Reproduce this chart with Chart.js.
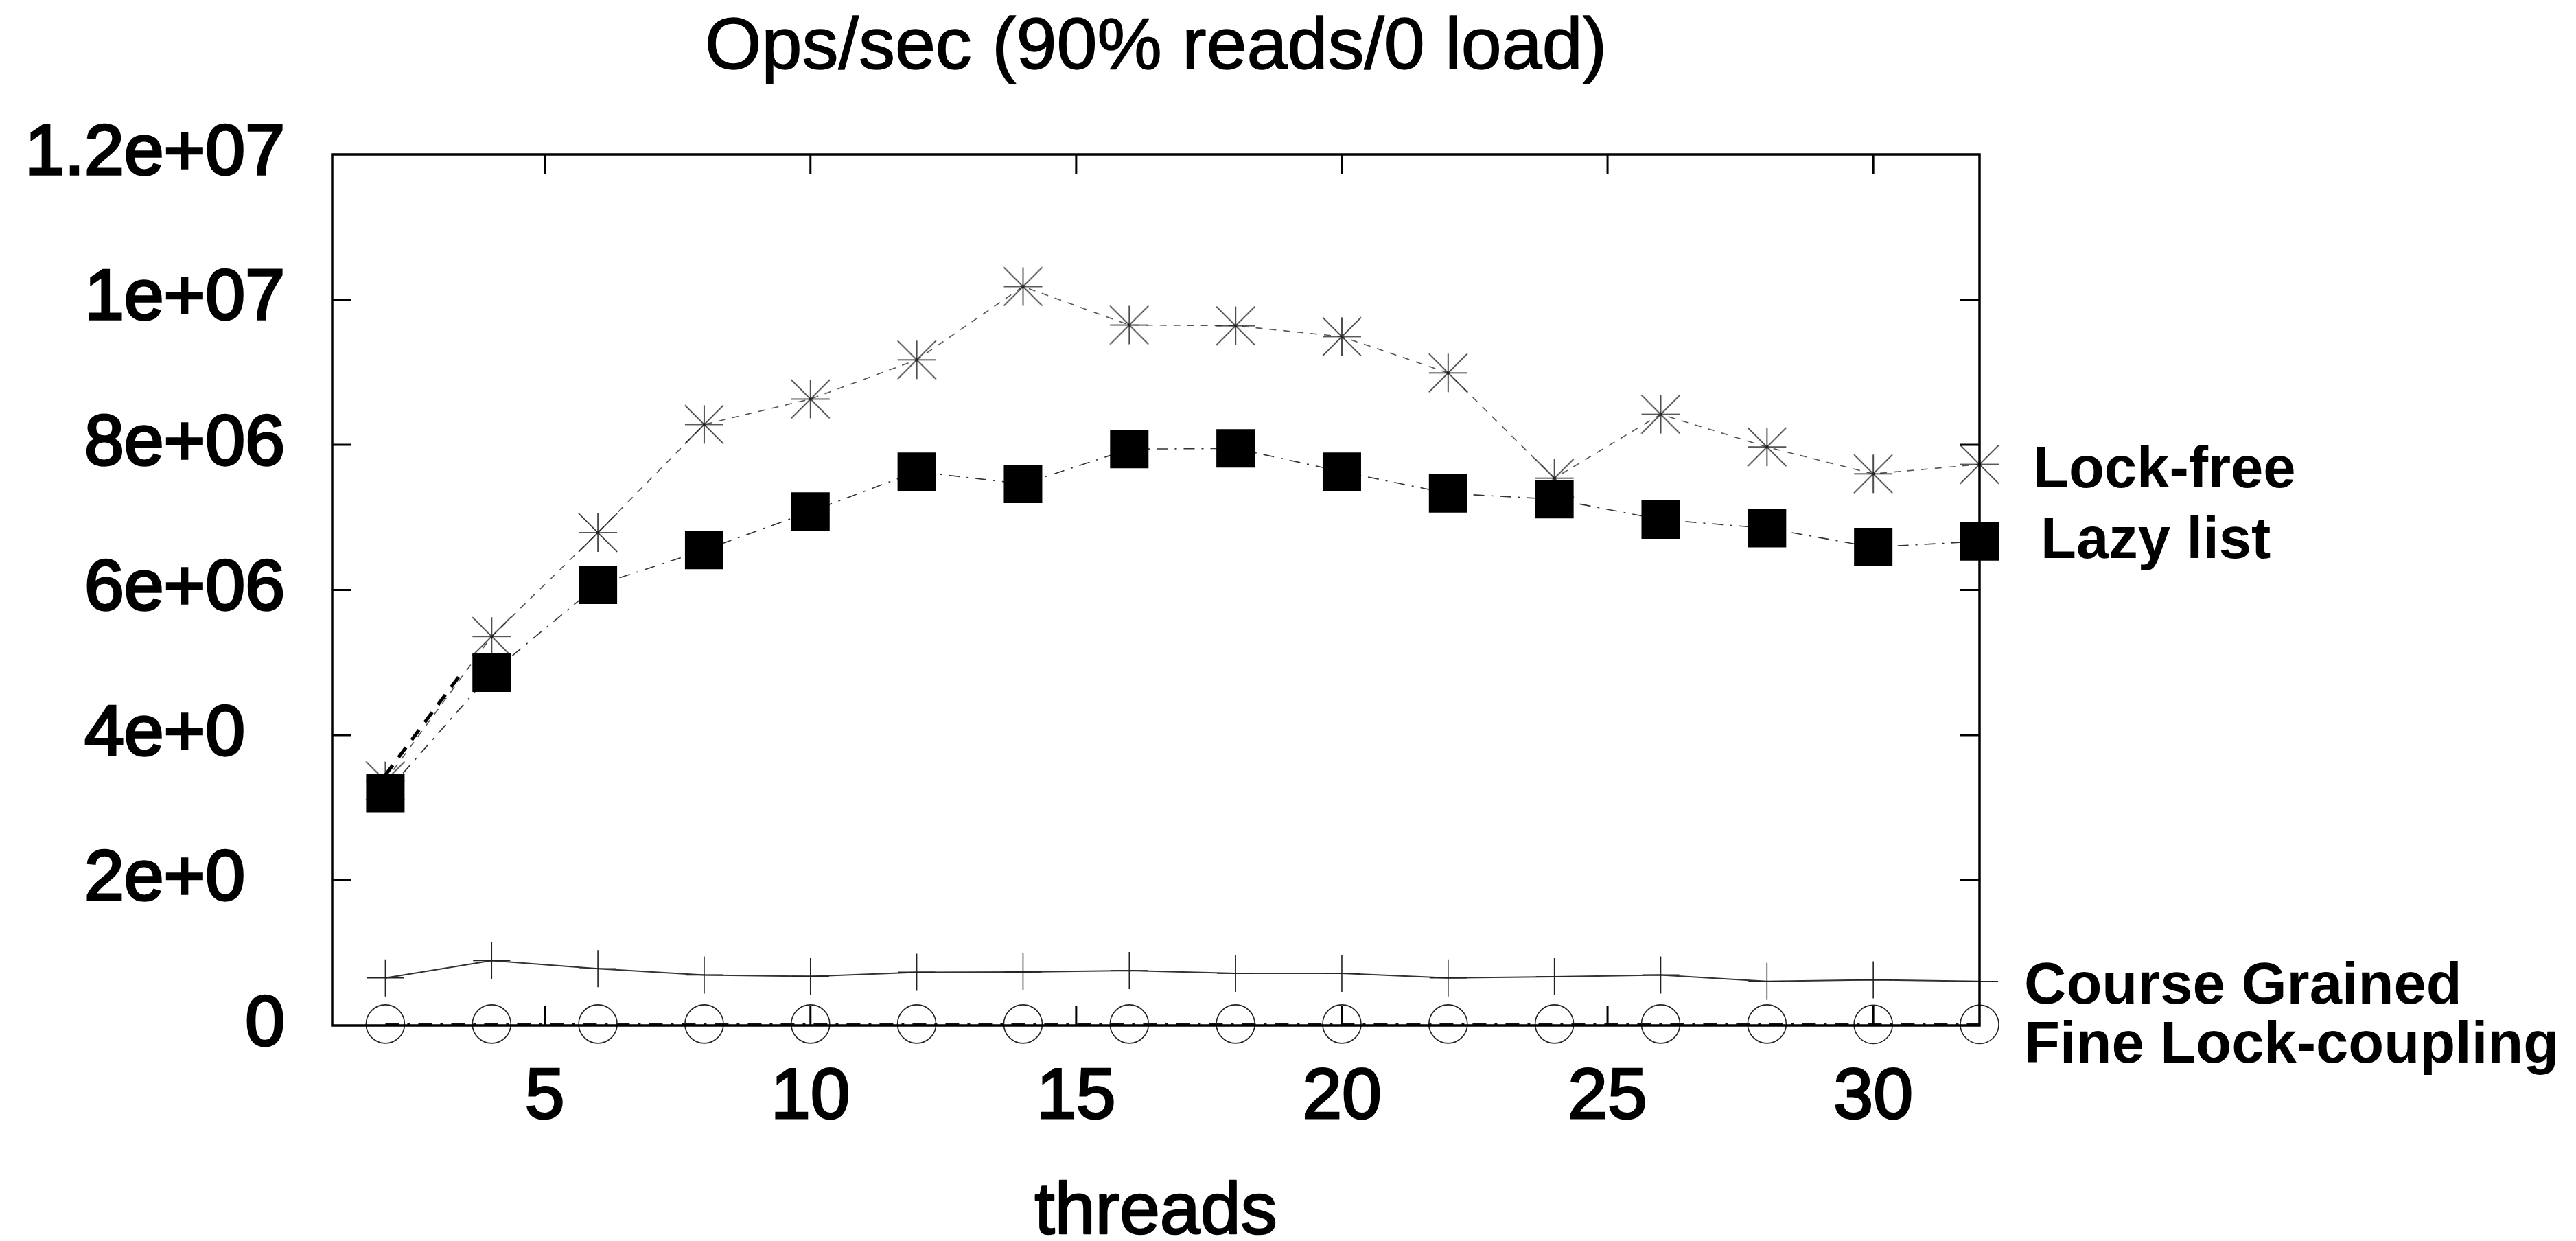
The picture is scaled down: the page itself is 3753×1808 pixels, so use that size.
<!DOCTYPE html>
<html>
<head>
<meta charset="utf-8">
<script src="https://cdn.jsdelivr.net/npm/chart.js@4/dist/chart.umd.min.js"></script>
<style>
  html, body { margin: 0; padding: 0; background: #fff; }
  #wrap { width: 3753px; height: 1808px; }
</style>
</head>
<body>
<div id="wrap"><canvas id="myChart" width="3753" height="1808"></canvas></div>
<script>
// values
const threads = [2, 4, 6, 8, 10, 12, 14, 16, 18, 20, 22, 24, 26, 28, 30, 32];
const lockFree = [3.37e6, 5.36e6, 6.79e6, 8.28e6, 8.63e6, 9.17e6, 10.18e6, 9.65e6, 9.64e6, 9.49e6, 8.99e6, 7.54e6, 8.42e6, 7.97e6, 7.60e6, 7.73e6];
const lazyList = [3.20e6, 4.86e6, 6.07e6, 6.55e6, 7.08e6, 7.63e6, 7.46e6, 7.94e6, 7.95e6, 7.63e6, 7.33e6, 7.25e6, 6.97e6, 6.85e6, 6.59e6, 6.67e6];
const courseGrained = [6.55e5, 8.93e5, 7.82e5, 6.96e5, 6.77e5, 7.34e5, 7.37e5, 7.57e5, 7.19e5, 7.19e5, 6.55e5, 6.71e5, 6.96e5, 6.08e5, 6.30e5, 6.08e5];
const fineLock = [2e4, 2e4, 2e4, 2e4, 2e4, 2e4, 2e4, 2e4, 2e4, 2e4, 2e4, 2e4, 2e4, 2e4, 1.5e4, 1.5e4];
// short bold dashed stroke near the start
const strayX = [2, 3.46];
const strayY = [3.45e6, 4.88e6];

const seriesNames = ['Lock-free', 'Lazy list', 'Course Grained', 'Fine Lock-coupling'];
const yTickLabels = ['0', '2e+0', '4e+0', '6e+06', '8e+06', '1e+07', '1.2e+07'];
const chartTitle = 'Ops/sec (90% reads/0 load)';
const xTitle = 'threads';

const FONT = '"Liberation Sans", Arial, Helvetica, sans-serif';

function toPoints(xs, ys) {
  return xs.map((x, i) => ({ x: x, y: ys[i] }));
}

// gnuplot-like asterisk: plus and X inside a square
function makeStar(size) {
  const c = document.createElement('canvas');
  c.width = size; c.height = size;
  const g = c.getContext('2d');
  const m = 1, e = size - 1, h = size / 2;
  g.strokeStyle = '#222';
  g.lineWidth = 1.6;
  g.beginPath();
  g.moveTo(h, m); g.lineTo(h, e);
  g.moveTo(m, h); g.lineTo(e, h);
  g.moveTo(m, m); g.lineTo(e, e);
  g.moveTo(e, m); g.lineTo(m, e);
  g.stroke();
  return c;
}
const starImg = makeStar(58);

// label placement at line ends: [x, baseline offset from last point]
const endLabelPos = [[2962, 33], [2973, 24], [2949, 32], [2949, 56]];

function heavyText(ctx, text, x, y, w) {
  ctx.fillText(text, x, y);
  if (w) {
    ctx.lineWidth = w;
    ctx.lineJoin = 'round';
    ctx.strokeText(text, x, y);
  }
}

const framePlugin = {
  id: 'frame',
  afterDraw(chart) {
    const ctx = chart.ctx;
    const a = chart.chartArea;
    const xs = chart.scales.x, ys = chart.scales.y;
    const tl = 28;
    ctx.save();
    ctx.strokeStyle = '#000';
    ctx.lineWidth = 3;
    ctx.beginPath();
    ys.ticks.forEach(t => {
      if (t.value <= ys.min || t.value >= ys.max) return;
      const p = ys.getPixelForValue(t.value);
      ctx.moveTo(a.left, p); ctx.lineTo(a.left + tl, p);
      ctx.moveTo(a.right, p); ctx.lineTo(a.right - tl, p);
    });
    xs.ticks.forEach(t => {
      const p = xs.getPixelForValue(t.value);
      ctx.moveTo(p, a.bottom); ctx.lineTo(p, a.bottom - tl);
      ctx.moveTo(p, a.top); ctx.lineTo(p, a.top + tl);
    });
    ctx.stroke();
    ctx.lineWidth = 3.5;
    ctx.strokeRect(a.left, a.top, a.right - a.left, a.bottom - a.top);

    ctx.fillStyle = '#000';
    ctx.textAlign = 'center';
    ctx.textBaseline = 'alphabetic';
    ctx.font = 'normal 106px ' + FONT;
    const cx = (a.left + a.right) / 2;
    heavyText(ctx, chartTitle, cx, 100, 1.5);
    heavyText(ctx, xTitle, cx, 1797, 2.5);

    ctx.textAlign = 'left';
    ctx.font = 'bold 85px ' + FONT;
    const lastVals = [lockFree, lazyList, courseGrained, fineLock].map(s => s[s.length - 1]);
    seriesNames.forEach((name, i) => {
      const y = ys.getPixelForValue(lastVals[i]) + endLabelPos[i][1];
      ctx.fillText(name, endLabelPos[i][0], y);
    });
    ctx.restore();
  }
};

new Chart('myChart', {
  type: 'line',
  data: {
    datasets: [
      {
        label: 'stray',
        data: toPoints(strayX, strayY),
        borderColor: '#000',
        borderWidth: 5,
        borderDash: [18, 14],
        pointRadius: 0,
        clip: false
      },
      {
        label: seriesNames[1],
        data: toPoints(threads, lazyList),
        borderColor: '#333',
        borderWidth: 1.6,
        borderDash: [16, 10, 3, 10],
        pointStyle: 'rect',
        pointRadius: 39.6,
        pointBackgroundColor: '#000',
        pointBorderWidth: 0,
        clip: false
      },
      {
        label: seriesNames[0],
        data: toPoints(threads, lockFree),
        borderColor: '#555',
        borderWidth: 1.6,
        borderDash: [10, 10],
        pointStyle: starImg,
        clip: false
      },
      {
        label: seriesNames[2],
        data: toPoints(threads, courseGrained),
        borderColor: '#333',
        borderWidth: 2,
        pointStyle: 'cross',
        pointRadius: 27,
        pointBorderColor: '#222',
        pointBorderWidth: 1.6,
        clip: false
      },
      {
        label: seriesNames[3],
        data: toPoints(threads, fineLock),
        borderColor: '#111',
        borderWidth: 3.5,
        borderDash: [20, 12, 4, 12],
        pointStyle: 'circle',
        pointRadius: 28,
        pointBackgroundColor: 'rgba(0,0,0,0)',
        pointBorderColor: '#222',
        pointBorderWidth: 1.6,
        clip: false
      }
    ]
  },
  options: {
    responsive: false,
    animation: false,
    events: [],
    layout: { padding: { top: 225, right: 869, left: 0, bottom: 0 } },
    elements: { line: { tension: 0, fill: false } },
    plugins: {
      legend: { display: false },
      title: { display: false },
      tooltip: { enabled: false }
    },
    scales: {
      x: {
        type: 'linear',
        min: 1,
        max: 32,
        grid: { display: false, drawTicks: false },
        border: { display: false },
        ticks: {
          stepSize: 5,
          includeBounds: false,
          color: '#000',
          textStrokeColor: '#000',
          textStrokeWidth: 3,
          padding: 54,
          maxRotation: 0,
          font: { family: FONT, size: 104, lineHeight: 1 }
        },
        afterFit(scale) { scale.height = 314; }
      },
      y: {
        min: 0,
        max: 1.2e7,
        grid: { display: false, drawTicks: false },
        border: { display: false },
        ticks: {
          stepSize: 2e6,
          color: '#000',
          textStrokeColor: '#000',
          textStrokeWidth: 3.5,
          padding: 69,
          font: { family: FONT, size: 104, lineHeight: 1 },
          callback: (v, i) => {
            const s = yTickLabels[i];
            return s.length < 5 && s !== '0' ? s + '\u2007' : s;
          }
        },
        afterFit(scale) { scale.width = 484; }
      }
    }
  },
  plugins: [framePlugin]
});
</script>
</body>
</html>
